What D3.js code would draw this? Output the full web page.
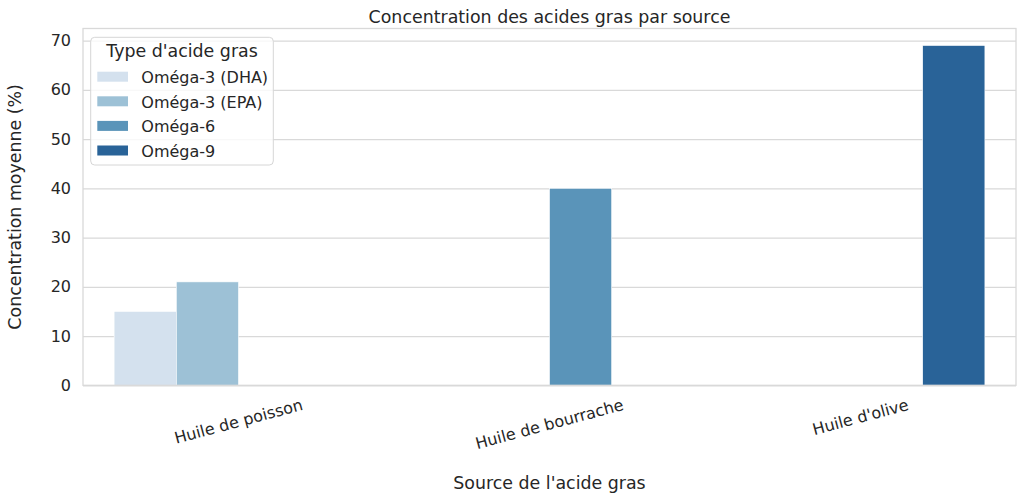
<!DOCTYPE html>
<html>
<head>
<meta charset="utf-8">
<script src="https://cdn.jsdelivr.net/npm/d3@7"></script>
<style>
  html, body { margin: 0; padding: 0; background: #fff; }
  svg { display: block; font-family: "DejaVu Sans", sans-serif; }
</style>
</head>
<body>
<svg id="chart" width="1024" height="502"></svg>
<script>
const categories = ["Huile de poisson", "Huile de bourrache", "Huile d'olive"];
const seriesNames = ["Oméga-3 (DHA)", "Oméga-3 (EPA)", "Oméga-6", "Oméga-9"];
const seriesCategory = ["Huile de poisson", "Huile de poisson", "Huile de bourrache", "Huile d'olive"];
const seriesValues = [15, 21, 40, 69];
const seriesColors = ["#d4e1ee", "#9dc1d6", "#5a94b9", "#296398"];
const yTicks = [0, 10, 20, 30, 40, 50, 60, 70];

const chartTitle = "Concentration des acides gras par source";
const xLabel = "Source de l'acide gras";
const yLabel = "Concentration moyenne (%)";
const legendTitle = "Type d'acide gras";

(function () {
const svg = d3.select("#chart");
const mLeft = 83, mRight = 1016, mTop = 28.5, mBottom = 385.3;
const textColor = "#262626";
const gridColor = "#d9d9d9";

const yMax = d3.max(seriesValues) * 1.05;
const y = d3.scaleLinear().domain([0, yMax]).range([mBottom, mTop]);
const x = d3.scaleBand().domain(categories).range([mLeft, mRight]).paddingInner(0).paddingOuter(0);
const sub = d3.scaleBand().domain(seriesNames).range([x.bandwidth() * 0.1, x.bandwidth() * 0.9]);

// gridlines
svg.append("g")
  .attr("transform", `translate(${mLeft},0)`)
  .call(d3.axisLeft(y).tickValues(yTicks).tickSize(-(mRight - mLeft)).tickFormat(d => d).tickPadding(12))
  .call(g => {
    g.select(".domain").remove();
    g.selectAll(".tick line").attr("stroke", gridColor).attr("stroke-width", 1.2);
    g.selectAll(".tick text").attr("fill", textColor).attr("font-size", "16px")
      .attr("font-family", "DejaVu Sans");
  });

// bars
svg.append("g").selectAll("rect")
  .data(seriesValues.map((v, i) => ({ v, i })))
  .join("rect")
  .attr("x", d => x(seriesCategory[d.i]) + sub(seriesNames[d.i]))
  .attr("width", sub.bandwidth())
  .attr("y", d => y(d.v))
  .attr("height", d => y(0) - y(d.v))
  .attr("fill", d => seriesColors[d.i])
  .attr("stroke", "#fff")
  .attr("stroke-width", 0.6);

// frame
svg.append("rect")
  .attr("x", mLeft).attr("y", mTop)
  .attr("width", mRight - mLeft).attr("height", mBottom - mTop)
  .attr("fill", "none").attr("stroke", gridColor).attr("stroke-width", 1.3);

// x axis tick labels (rotated 15°)
const xAxisG = svg.append("g")
  .attr("transform", `translate(0,${mBottom})`)
  .call(d3.axisBottom(x).tickSize(0).tickPadding(0));
xAxisG.select(".domain").remove();
xAxisG.selectAll(".tick text")
  .attr("fill", textColor)
  .attr("font-size", "16px")
  .attr("font-family", "DejaVu Sans")
  .attr("text-anchor", "middle")
  .attr("dy", null)
  .attr("dominant-baseline", "central")
  .each(function () {
    const t = d3.select(this);
    const w = this.getComputedTextLength();
    const a = 15 * Math.PI / 180;
    const H = w * Math.sin(a) + 16 * 1.17 * Math.cos(a);
    const cy = 10 + H / 2;
    t.attr("x", 0).attr("y", cy).attr("transform", `rotate(-15,0,${cy})`);
  });

// title
svg.append("text")
  .attr("x", (mLeft + mRight) / 2).attr("y", 22.5)
  .attr("text-anchor", "middle")
  .attr("fill", textColor).attr("font-size", "17.4px")
  .text(chartTitle);

// x label
svg.append("text")
  .attr("x", (mLeft + mRight) / 2).attr("y", 489)
  .attr("text-anchor", "middle")
  .attr("fill", textColor).attr("font-size", "17.4px")
  .text(xLabel);

// y label
svg.append("text")
  .attr("transform", `translate(21,${(mTop + mBottom) / 2}) rotate(-90)`)
  .attr("text-anchor", "middle")
  .attr("fill", textColor).attr("font-size", "17.4px")
  .text(yLabel);

// legend
const lg = svg.append("g");
lg.append("rect")
  .attr("x", 90.7).attr("y", 37.3).attr("width", 182.6).attr("height", 127.7)
  .attr("rx", 4).attr("ry", 4)
  .attr("fill", "#fff").attr("fill-opacity", 0.8)
  .attr("stroke", "#d6d6d6").attr("stroke-width", 1);
lg.append("text")
  .attr("x", 182).attr("y", 56.7)
  .attr("text-anchor", "middle")
  .attr("fill", textColor).attr("font-size", "17.4px")
  .text(legendTitle);
const rowY = d3.scalePoint().domain(seriesNames).range([76.7, 150.5]);
const rows = lg.selectAll("g.row").data(seriesNames).join("g").attr("class", "row");
rows.append("rect")
  .attr("x", 97.3).attr("width", 30.7)
  .attr("y", d => rowY(d) - 5).attr("height", 10)
  .attr("fill", (d, i) => seriesColors[i]);
rows.append("text")
  .attr("x", 141.3).attr("y", d => rowY(d) + 1)
  .attr("dominant-baseline", "central")
  .attr("fill", textColor).attr("font-size", "16px")
  .text(d => d);
})();
</script>
</body>
</html>
